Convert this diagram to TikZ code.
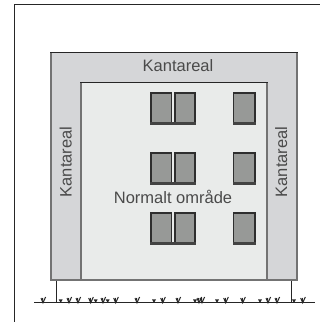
\documentclass[tikz,border=0pt]{standalone}
\usepackage{fontspec}
\setmainfont{Liberation Sans}
\definecolor{edgeg}{HTML}{737373}
\definecolor{darkl}{HTML}{262626}
\definecolor{outerf}{HTML}{D5D6D8}
\definecolor{innerf}{HTML}{E9EBEA}
\definecolor{winf}{HTML}{979997}
\definecolor{winl}{HTML}{2E2E2E}
\definecolor{txt}{HTML}{4A4A4A}
\tikzset{
  x=1pt,y=-1pt,
  lbl/.style={inner sep=0pt,text=txt,font=\fontsize{16.5}{16.5}\selectfont},
  pane/.style={fill=winf,draw=winl,line width=1.6pt},
  sill/.style={fill=winl!90!white,draw=none},
  frameline/.style={draw=darkl,line width=0.9pt},
  grassbig/.style={draw=darkl,line width=1pt},
}
\newcommand{\doublewin}[1]{%
  \draw[pane] (150.8,#1) rectangle (171.6,#1+29.5);
  \draw[pane] (175,#1) rectangle (194.8,#1+29.5);
  \fill[sill] (150,#1+29.4) rectangle (195.6,#1+32.2);
}
\newcommand{\singlewin}[1]{%
  \draw[pane] (233.5,#1) rectangle (255.2,#1+29.5);
  \fill[sill] (232.7,#1+29.4) rectangle (256,#1+32.2);
}
\begin{document}
\begin{tikzpicture}
\useasboundingbox (0,0) rectangle (320,322);
\fill[white] (0,0) rectangle (320,322);
% page frame
\draw[frameline] (14.5,322) -- (14.5,4.2) -- (320,4.2);
% building
\fill[outerf] (51,52.5) rectangle (297,280);
\fill[innerf] (81,82.5) rectangle (267,280);
\draw[edgeg,line width=1.2pt] (51,52.5) -- (51,280) -- (297,280) -- (297,52.5);
\draw[edgeg,line width=1.2pt] (81,82.5) -- (81,280);
\draw[edgeg,line width=1.2pt] (267,82.5) -- (267,280);
\draw[darkl,line width=0.8pt] (50.4,52.5) -- (297.6,52.5);
\draw[darkl,line width=0.8pt] (80.4,82.5) -- (267.6,82.5);
% windows
\foreach \wy in {93,153,213}{\doublewin{\wy}\singlewin{\wy}}
% ground and posts
\coordinate (gl) at (34,302.8);
\coordinate (gr) at (315,302.8);
\coordinate (pl) at (56.5,280.5);
\coordinate (plb) at (56.5,302.8);
\coordinate (pr) at (291.7,280.5);
\coordinate (prb) at (291.7,302.8);
\draw[darkl,line width=0.8pt] (gl) -- (gr);
\draw[darkl,line width=0.8pt] (pl) -- (plb);
\draw[darkl,line width=0.8pt] (pr) -- (prb);
% grass tufts
\foreach \gx in {43,69,78,90.7,103,115.7,137,162.7,178,199,202,225.7,242.7,268,277,302.7}{
  \draw[grassbig] (\gx-2,298) -- (\gx,302.8) -- (\gx+2.6,297);
  \draw[grassbig] (\gx-.4,298) -- (\gx,302.8);
}
\foreach \gx in {60.7,95.7,107.7,154,195,217,260,294}{
  \fill[darkl] (\gx-2,299.4) -- (\gx+2,299.4) -- (\gx,302.8) -- cycle;
}
% labels
\node[lbl,anchor=base] (top) at (178,71) {Kantareal};
\node[lbl,anchor=base] (norm) at (173,203.5) {Normalt område};
\node[lbl,anchor=base,rotate=90] (left) at (71.5,162) {Kantareal};
\node[lbl,anchor=base,rotate=90] (right) at (287,162) {Kantareal};
\end{tikzpicture}
\end{document}
